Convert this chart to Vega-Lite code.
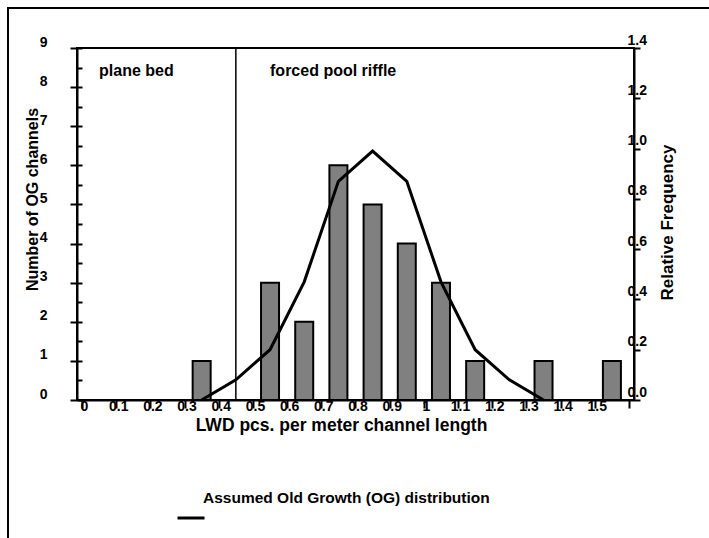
{
  "$schema": "https://vega.github.io/schema/vega-lite/v6.json",
  "width": 557,
  "height": 352,
  "autosize": {"type": "none"},
  "padding": {"left": 77, "top": 48, "right": 75, "bottom": 138},
  "background": "white",
  "config": {
    "view": {"stroke": "black", "strokeWidth": 2},
    "axis": {
      "grid": false,
      "domainColor": "black",
      "domainWidth": 2,
      "tickColor": "black",
      "tickWidth": 2,
      "labelColor": "black",
      "labelFont": "Liberation Sans",
      "labelFontWeight": "bold",
      "labelFontSize": 14,
      "titleFont": "Liberation Sans",
      "titleFontWeight": "bold",
      "titleFontSize": 16,
      "titleColor": "black"
    },
    "axisX": {"labelOverlap": false, "labelFlush": false},
    "legend": {"strokeWidth": 2},
    "text": {"font": "Liberation Sans"}
  },
  "datasets": {
    "bars": [
      {"lwd": 0.35, "count": 1},
      {"lwd": 0.55, "count": 3},
      {"lwd": 0.65, "count": 2},
      {"lwd": 0.75, "count": 6},
      {"lwd": 0.85, "count": 5},
      {"lwd": 0.95, "count": 4},
      {"lwd": 1.05, "count": 3},
      {"lwd": 1.15, "count": 1},
      {"lwd": 1.35, "count": 1},
      {"lwd": 1.55, "count": 1}
    ],
    "curve": [
      {"lwd": 0.35, "rel": 0.0},
      {"lwd": 0.45, "rel": 0.08},
      {"lwd": 0.55, "rel": 0.2},
      {"lwd": 0.65, "rel": 0.47},
      {"lwd": 0.75, "rel": 0.87},
      {"lwd": 0.85, "rel": 0.99},
      {"lwd": 0.95, "rel": 0.87},
      {"lwd": 1.05, "rel": 0.47},
      {"lwd": 1.15, "rel": 0.2},
      {"lwd": 1.25, "rel": 0.08},
      {"lwd": 1.35, "rel": 0.0}
    ],
    "notes": [
      {"lwd": 0.05, "count": 8.4, "label": "plane bed"},
      {"lwd": 0.55, "count": 8.4, "label": "forced pool riffle"}
    ],
    "boundary": [
      {"lwd": 0.45}
    ]
  },
  "encoding": {
    "x": {
      "field": "lwd",
      "type": "quantitative",
      "scale": {"domain": [0, 1.6], "nice": false, "zero": false},
      "axis": {
        "values": [0, 0.1, 0.2, 0.3, 0.4, 0.5, 0.6, 0.7, 0.8, 0.9, 1, 1.1, 1.2, 1.3, 1.4, 1.5, 1.6],
        "format": ".1~f",
        "labelExpr": "datum.value > 1.55 ? '' : datum.label",
        "labelOverlap": false,
        "labelFlush": false,
        "labelOffset": 2,
        "tickSize": 8,
        "labelPadding": -9,
        "title": "LWD pcs. per meter channel length",
        "titleFontSize": 17.5,
        "titleX": 264,
        "titleY": 25,
        "titleAlign": "center",
        "titleBaseline": "middle"
      }
    }
  },
  "layer": [
    {
      "layer": [
        {
          "data": {"name": "bars"},
          "mark": {"type": "bar", "size": 18, "fill": "#808080", "stroke": "black", "strokeWidth": 2},
          "encoding": {
            "y": {
              "field": "count",
              "type": "quantitative",
              "scale": {"domain": [0, 9], "nice": false},
              "axis": {
                "values": [0, 1, 2, 3, 4, 5, 6, 7, 8, 9],
                "format": "d",
                "tickSize": 7,
                "labelPadding": 23,
                "labelOffset": -6,
                "title": "Number of OG channels",
                "titleAngle": 270,
                "titleX": -45,
                "titleY": 151,
                "titleAlign": "center",
                "titleBaseline": "middle"
              }
            }
          }
        },
        {
          "data": {"name": "notes"},
          "mark": {"type": "text", "align": "left", "baseline": "middle", "fontSize": 16, "fontWeight": "bold", "color": "black"},
          "encoding": {
            "y": {
              "field": "count",
              "type": "quantitative",
              "axis": {
                "orient": "left",
                "values": [0, 0.5, 1, 1.5, 2, 2.5, 3, 3.5, 4, 4.5, 5, 5.5, 6, 6.5, 7, 7.5, 8, 8.5, 9],
                "labels": false,
                "domain": false,
                "tickSize": -5,
                "title": null
              }
            },
            "text": {"field": "label"}
          }
        },
        {
          "data": {"name": "boundary"},
          "mark": {"type": "rule", "color": "black", "strokeWidth": 1.5},
          "encoding": {
            "strokeDash": {
              "datum": "chart area",
              "type": "nominal",
              "scale": {"range": [[1, 0]]},
              "legend": {
                "title": null,
                "orient": "none",
                "legendX": -69,
                "legendY": -40,
                "padding": 360,
                "symbolOpacity": 0,
                "symbolSize": 1,
                "labelExpr": "''",
                "strokeColor": "black"
              }
            }
          }
        }
      ],
      "resolve": {"axis": {"y": "independent"}}
    },
    {
      "data": {"name": "curve"},
      "mark": {"type": "line", "strokeWidth": 3, "color": "black"},
      "encoding": {
        "y": {
          "field": "rel",
          "type": "quantitative",
          "scale": {"domain": [0, 1.4], "nice": false},
          "axis": {
            "orient": "right",
            "values": [0, 0.2, 0.4, 0.6, 0.8, 1.0, 1.2, 1.4],
            "format": ".1f",
            "tickSize": 6,
            "labelAlign": "left",
            "labelPadding": -13,
            "labelOffset": -8,
            "title": "Relative Frequency",
            "titleFontSize": 17,
            "titleAngle": 270,
            "titleX": 33,
            "titleY": 174,
            "titleAlign": "center",
            "titleBaseline": "middle"
          }
        },
        "stroke": {
          "datum": "Assumed Old Growth (OG) distribution",
          "type": "nominal",
          "scale": {"range": ["black"]},
          "legend": {
            "title": null,
            "orient": "none",
            "legendX": 99,
            "legendY": 455,
            "padding": 0,
            "symbolType": "stroke",
            "symbolSize": 729,
            "symbolStrokeWidth": 3,
            "symbolStrokeColor": "black",
            "labelFont": "Liberation Sans",
            "labelFontSize": 15.5,
            "labelFontWeight": "bold",
            "labelColor": "black",
            "labelOffset": -3,
            "labelLimit": 400,
            "encode": {"labels": {"update": {"dy": {"value": -20}}}}
          }
        }
      }
    }
  ],
  "resolve": {"scale": {"y": "independent"}}
}
